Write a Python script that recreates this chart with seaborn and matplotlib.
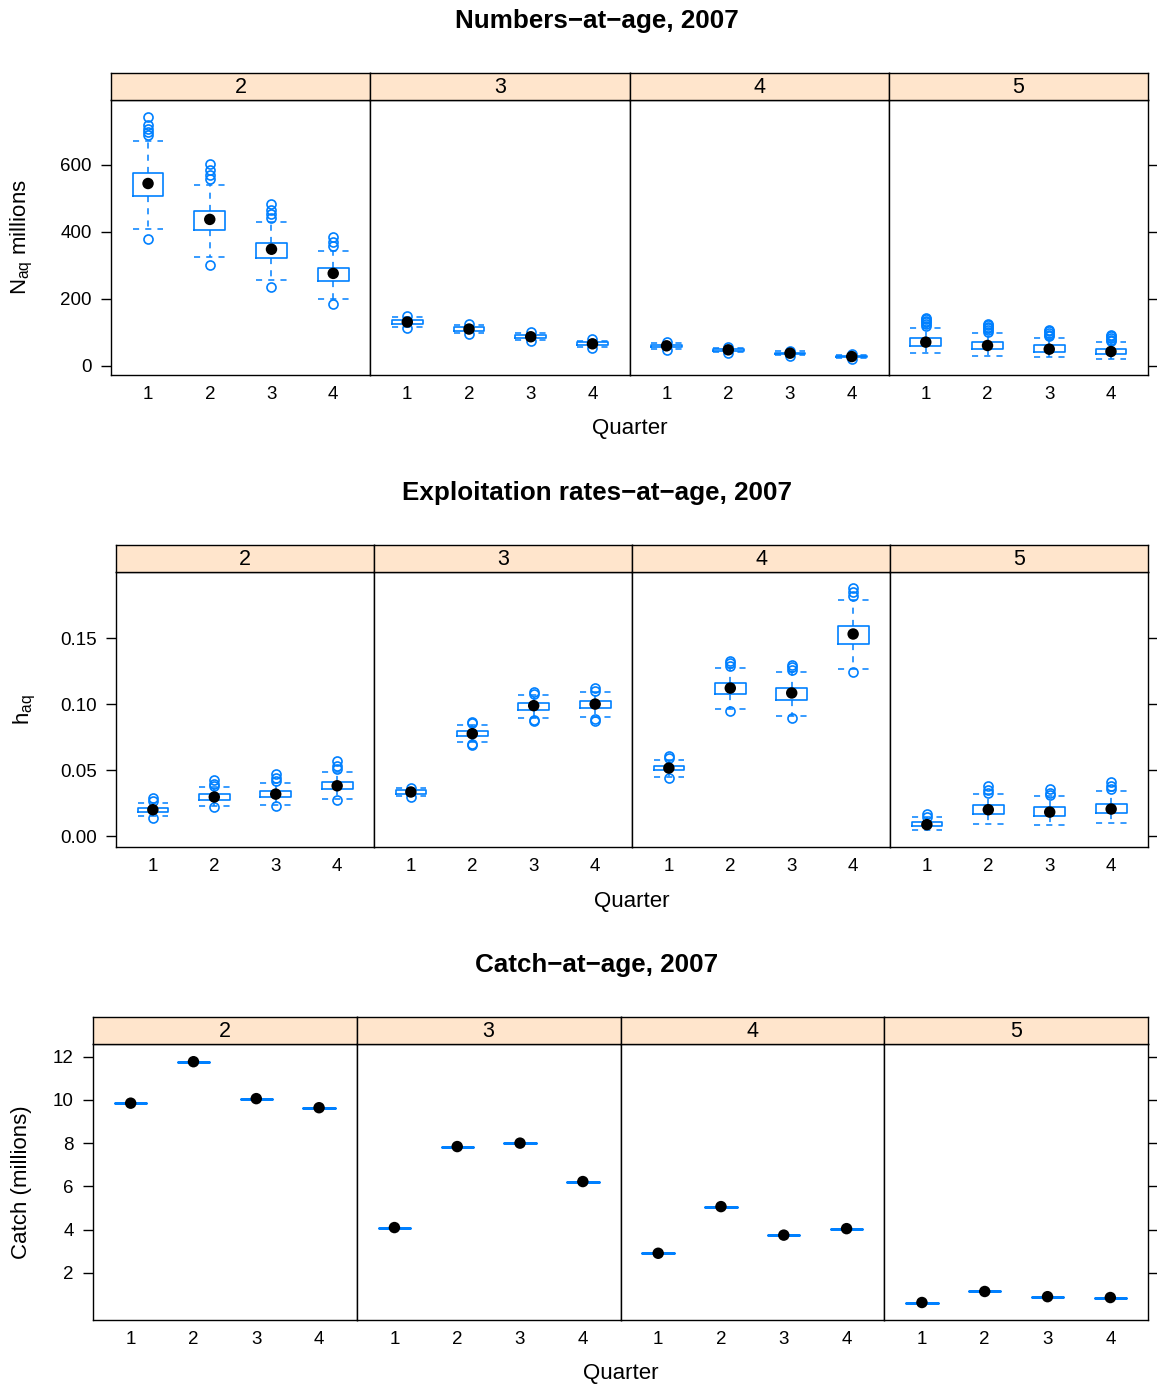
import numpy as np
import matplotlib
matplotlib.use("Agg")
import matplotlib.pyplot as plt
import seaborn as sns

# ---- data (ages 2..5, quarters 1..4) ----
ages = ["2", "3", "4", "5"]
quarters = [1, 2, 3, 4]

# Numbers-at-age (millions)
num_med = [[544, 437, 348, 276], [131, 110, 87, 66], [60, 48, 38, 28], [71, 61, 50, 43]]
num_q1 = [[508, 406, 321, 254], [125, 104, 82, 62], [57, 45, 35, 26], [58, 50, 41, 35]]
num_q3 = [[574, 462, 368, 291], [137, 115, 91, 70], [63, 51, 40, 30], [83, 71, 61, 51]]
num_lo = [[407, 326, 256, 200], [117, 97, 76, 57], [51, 41, 32, 23], [38, 31, 26, 21]]
num_hi = [[671, 539, 430, 344], [146, 122, 97, 75], [68, 55, 44, 33], [114, 97, 83, 70]]
num_out = [
    [[743, 718, 708, 698, 688, 380], [601, 584, 569, 556, 301], [482, 465, 453, 440, 236], [385, 370, 358, 185]],
    [[149, 113], [126, 95], [101, 73], [79, 54]],
    [[70, 48], [57, 39], [46, 30], [36, 21]],
    [[120, 125, 130, 135, 140, 144], [102, 107, 112, 117, 122, 126], [88, 93, 98, 103, 108], [74, 78, 83, 88, 91]],
]

# Exploitation rates-at-age
h_med = [[0.0202, 0.0298, 0.0320, 0.0383], [0.0336, 0.0777, 0.0989, 0.1001],
         [0.0517, 0.1122, 0.1085, 0.1531], [0.0089, 0.0202, 0.0184, 0.0207]]
h_q1 = [[0.0184, 0.0278, 0.0298, 0.0358], [0.0323, 0.0762, 0.0958, 0.0971],
        [0.0499, 0.1077, 0.1034, 0.1455], [0.0076, 0.0169, 0.0157, 0.0177]]
h_q3 = [[0.0217, 0.0321, 0.0340, 0.0414], [0.0348, 0.0794, 0.1009, 0.1021],
        [0.0535, 0.1160, 0.1122, 0.1589], [0.0106, 0.0234, 0.0219, 0.0245]]
h_lo = [[0.0151, 0.0227, 0.0240, 0.0285], [0.0303, 0.0714, 0.0896, 0.0903],
        [0.0449, 0.0964, 0.0913, 0.1266], [0.0045, 0.0096, 0.0089, 0.0101]]
h_hi = [[0.0253, 0.0374, 0.0404, 0.0490], [0.0366, 0.0845, 0.1067, 0.1092],
        [0.0580, 0.1274, 0.1243, 0.1785], [0.0144, 0.0323, 0.0303, 0.0340]]
h_out = [
    [[0.027, 0.029, 0.014], [0.038, 0.040, 0.043, 0.022], [0.042, 0.044, 0.047, 0.0227], [0.051, 0.053, 0.057, 0.0278]],
    [[0.037, 0.030], [0.0855, 0.0865, 0.070, 0.069], [0.108, 0.1095, 0.088, 0.087], [0.110, 0.112, 0.089, 0.087]],
    [[0.059, 0.061, 0.044], [0.129, 0.131, 0.133, 0.0946], [0.126, 0.128, 0.130, 0.0896], [0.182, 0.185, 0.188, 0.124]],
    [[0.015, 0.017], [0.033, 0.035, 0.038], [0.031, 0.033, 0.036], [0.036, 0.038, 0.041]],
]

# Catch-at-age (millions)
catch = [[9.85, 11.77, 10.06, 9.64], [4.09, 7.84, 8.00, 6.22],
         [2.90, 5.06, 3.74, 4.04], [0.62, 1.13, 0.89, 0.85]]

# ---- style ----
sns.set_theme(style="white")
plt.rcParams["font.family"] = ["Liberation Sans", "DejaVu Sans"]
plt.rcParams["mathtext.fontset"] = "custom"
plt.rcParams["mathtext.rm"] = "Liberation Sans"
plt.rcParams["mathtext.it"] = "Liberation Sans:italic"
for key in ["text.color", "axes.labelcolor", "xtick.color", "ytick.color"]:
    plt.rcParams[key] = "black"

BLUE = "#0080FF"
STRIP = "#FFE5CC"
W, H = 1157, 1387

fig = plt.figure(figsize=(W / 100, H / 100), dpi=100)


def rect(l, t, r, b):
    return [l / W, 1 - b / H, (r - l) / W, (b - t) / H]


def draw_panel(title, ylabel, left, top, bottom, ylim, yticks, yfmt, stats_fn, ylab_x, title_y, xlab_y, flat=False):
    right = 1148
    strip_top = top - 27
    fw = (right - left) / 4
    fig.text(597 / W, 1 - title_y / H, title, ha="center", va="center",
             fontsize=18.7, fontweight="bold")
    for i, age in enumerate(ages):
        l = left + i * fw
        ax = fig.add_axes(rect(l, top, l + fw, bottom))
        stats = stats_fn(i)
        ax.bxp(stats, positions=quarters, widths=0.5, capwidths=0.5,
               showcaps=not flat, showfliers=not flat,
               boxprops=dict(color=BLUE, lw=1.8 if flat else 1.2),
               whiskerprops=dict(color=BLUE, lw=1.1, linestyle=(0, (4, 4))),
               capprops=dict(color=BLUE, lw=1.1, linestyle=(0, (4, 4))),
               medianprops=dict(lw=0),
               flierprops=dict(marker="o", mfc="none", mec=BLUE, ms=6.5, mew=1.2))
        sns.scatterplot(x=quarters, y=[s["med"] for s in stats], ax=ax, color="black",
                        s=68, edgecolor="none", legend=False, zorder=5)
        ax.set_xlim(0.4, 4.6)
        ax.set_ylim(*ylim)
        ax.set_xticks(quarters)
        ax.set_xticklabels([str(q) for q in quarters])
        ax.set_xlabel("")
        ax.set_ylabel("")
        ax.tick_params(axis="x", length=0, pad=8, labelsize=13.5)
        ax.set_yticks(yticks)
        ax.set_yticklabels([yfmt.format(v) for v in yticks])
        ax.tick_params(axis="y", length=7, width=1, color="black", labelsize=13.5, pad=7,
                       left=(i == 0), labelleft=(i == 0), right=(i == 3), labelright=False)
        for sp in ax.spines.values():
            sp.set_color("black")
            sp.set_linewidth(1.0)
            sp.set_visible(True)
        sax = fig.add_axes(rect(l, strip_top, l + fw, top))
        sax.set_facecolor(STRIP)
        sax.set_xticks([])
        sax.set_yticks([])
        for sp in sax.spines.values():
            sp.set_color("black")
            sp.set_linewidth(1.0)
            sp.set_visible(True)
        sax.text(0.5, 0.45, age, ha="center", va="center", fontsize=15.5, transform=sax.transAxes)
    fig.text(ylab_x / W, 1 - (top + bottom) / 2 / H, ylabel, rotation=90,
             ha="center", va="center", fontsize=16)
    fig.text((left + right) / 2 / W, 1 - xlab_y / H, "Quarter", ha="center", va="center", fontsize=16)


def num_stats(i):
    return [dict(med=num_med[i][j], q1=num_q1[i][j], q3=num_q3[i][j],
                 whislo=num_lo[i][j], whishi=num_hi[i][j], fliers=num_out[i][j]) for j in range(4)]


def h_stats(i):
    return [dict(med=h_med[i][j], q1=h_q1[i][j], q3=h_q3[i][j],
                 whislo=h_lo[i][j], whishi=h_hi[i][j], fliers=h_out[i][j]) for j in range(4)]


def catch_stats(i):
    return [dict(med=c, q1=c, q3=c, whislo=c, whishi=c, fliers=[]) for c in catch[i]]


draw_panel("Numbers\u2212at\u2212age, 2007", r"N$_{\rm aq}$ millions", 111, 100, 375,
           (-27, 793), [0, 200, 400, 600], "{:.0f}", num_stats, 22, 21, 429)
draw_panel("Exploitation rates\u2212at\u2212age, 2007", r"h$_{\rm aq}$", 116, 572, 847,
           (-0.008, 0.2), [0.0, 0.05, 0.10, 0.15], "{:.2f}", h_stats, 25, 493, 901)
draw_panel("Catch\u2212at\u2212age, 2007", "Catch (millions)", 93, 1044, 1320,
           (-0.19, 12.59), [2, 4, 6, 8, 10, 12], "{:.0f}", catch_stats, 22, 965, 1373, flat=True)

fig.savefig("out.png", dpi=100)
